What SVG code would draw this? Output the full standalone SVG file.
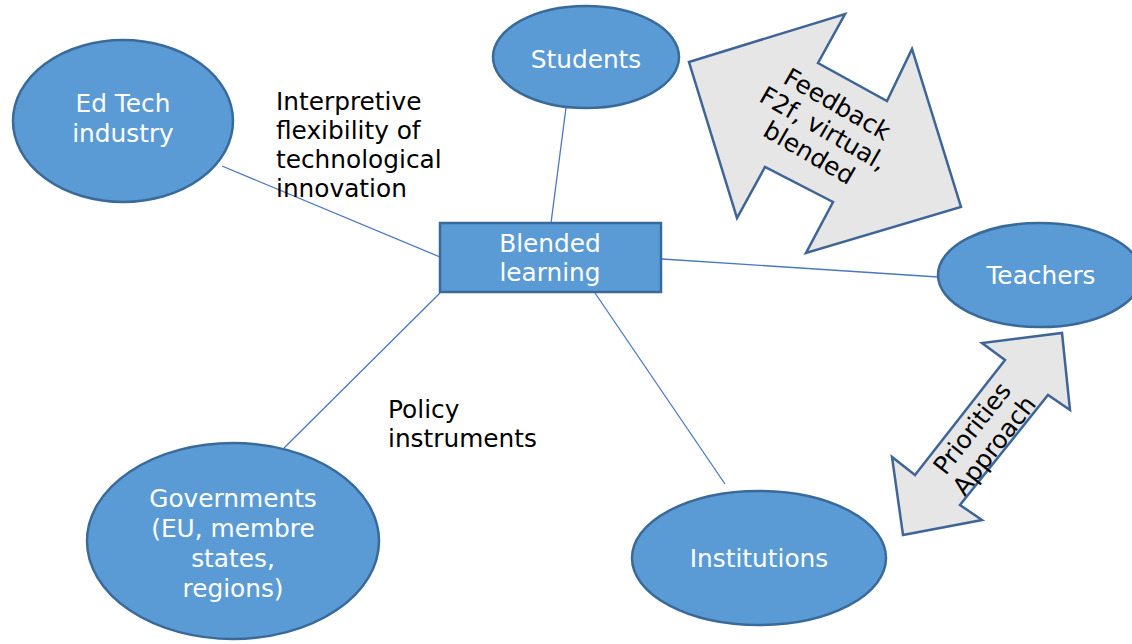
<svg xmlns="http://www.w3.org/2000/svg" width="1132" height="644" viewBox="0 0 1132 644">
<style>
.node{fill:#5b9bd5;stroke:#3a6a9a;stroke-width:2.5}
.wt{fill:#ffffff;font-family:"DejaVu Sans",sans-serif;font-size:24.8px;text-anchor:middle}
.bt{fill:#000000;font-family:"DejaVu Sans",sans-serif;font-size:24.8px}
.conn{stroke:#4a78c2;stroke-width:1.3;fill:none}
.arrow{fill:#e6e6e6;stroke:#3f6597;stroke-width:2.5;stroke-linejoin:miter}
</style>
<rect width="1132" height="644" fill="#ffffff"/>
<g id="connectors">
<line class="conn" x1="222" y1="166" x2="440" y2="257"/>
<line class="conn" x1="567" y1="100" x2="551" y2="223"/>
<line class="conn" x1="662" y1="259" x2="938" y2="277"/>
<line class="conn" x1="440" y1="293" x2="284" y2="448"/>
<line class="conn" x1="595" y1="293" x2="725" y2="484"/>
</g>
<g id="edtech">
<ellipse class="node" cx="123" cy="121" rx="110" ry="81"/>
<text class="wt" x="123" y="112">Ed Tech</text>
<text class="wt" x="123" y="142">industry</text>
</g>
<g id="students">
<ellipse class="node" cx="586" cy="57" rx="93" ry="51"/>
<text class="wt" x="586" y="68">Students</text>
</g>
<g id="blended">
<rect class="node" x="440" y="223" width="221" height="69"/>
<text class="wt" x="550" y="252">Blended</text>
<text class="wt" x="550" y="281">learning</text>
</g>
<g id="teachers">
<ellipse class="node" cx="1040" cy="275" rx="102" ry="52"/>
<text class="wt" x="1041" y="284">Teachers</text>
</g>
<g id="institutions">
<ellipse class="node" cx="759" cy="558" rx="127" ry="67"/>
<text class="wt" x="759" y="567">Institutions</text>
</g>
<g id="governments">
<ellipse class="node" cx="233" cy="541" rx="146" ry="98"/>
<text class="wt" x="233" y="507">Governments</text>
<text class="wt" x="233" y="537">(EU, membre</text>
<text class="wt" x="233" y="567">states,</text>
<text class="wt" x="233" y="597">regions)</text>
</g>
<g id="label-interpretive">
<text class="bt" x="276" y="110">Interpretive</text>
<text class="bt" x="276" y="139">flexibility of</text>
<text class="bt" x="276" y="168">technological</text>
<text class="bt" x="276" y="197">innovation</text>
</g>
<g id="label-policy">
<text class="bt" x="388" y="418">Policy</text>
<text class="bt" x="388" y="447">instruments</text>
</g>
<g id="feedback-arrow">
<polygon class="arrow" points="689,62 845,14 818,63 887,101 912,49 961,207 806,253 833,202 765,167 737,218"/>
<g transform="translate(823,129) rotate(30)">
<text class="bt" x="0" y="-20" text-anchor="middle">Feedback</text>
<text class="bt" x="0" y="8" text-anchor="middle">F2f, virtual,</text>
<text class="bt" x="0" y="36" text-anchor="middle">blended</text>
</g>
</g>
<g id="priorities-arrow">
<polygon class="arrow" points="1062,333 1070,410 1048,395 960,505 982,520 903,535 892,457 915,475 1005,360 982,343"/>
<g transform="translate(982,436) rotate(-52)">
<text class="bt" x="0" y="-4" text-anchor="middle">Priorities</text>
<text class="bt" x="0" y="24" text-anchor="middle">Approach</text>
</g>
</g>
</svg>
